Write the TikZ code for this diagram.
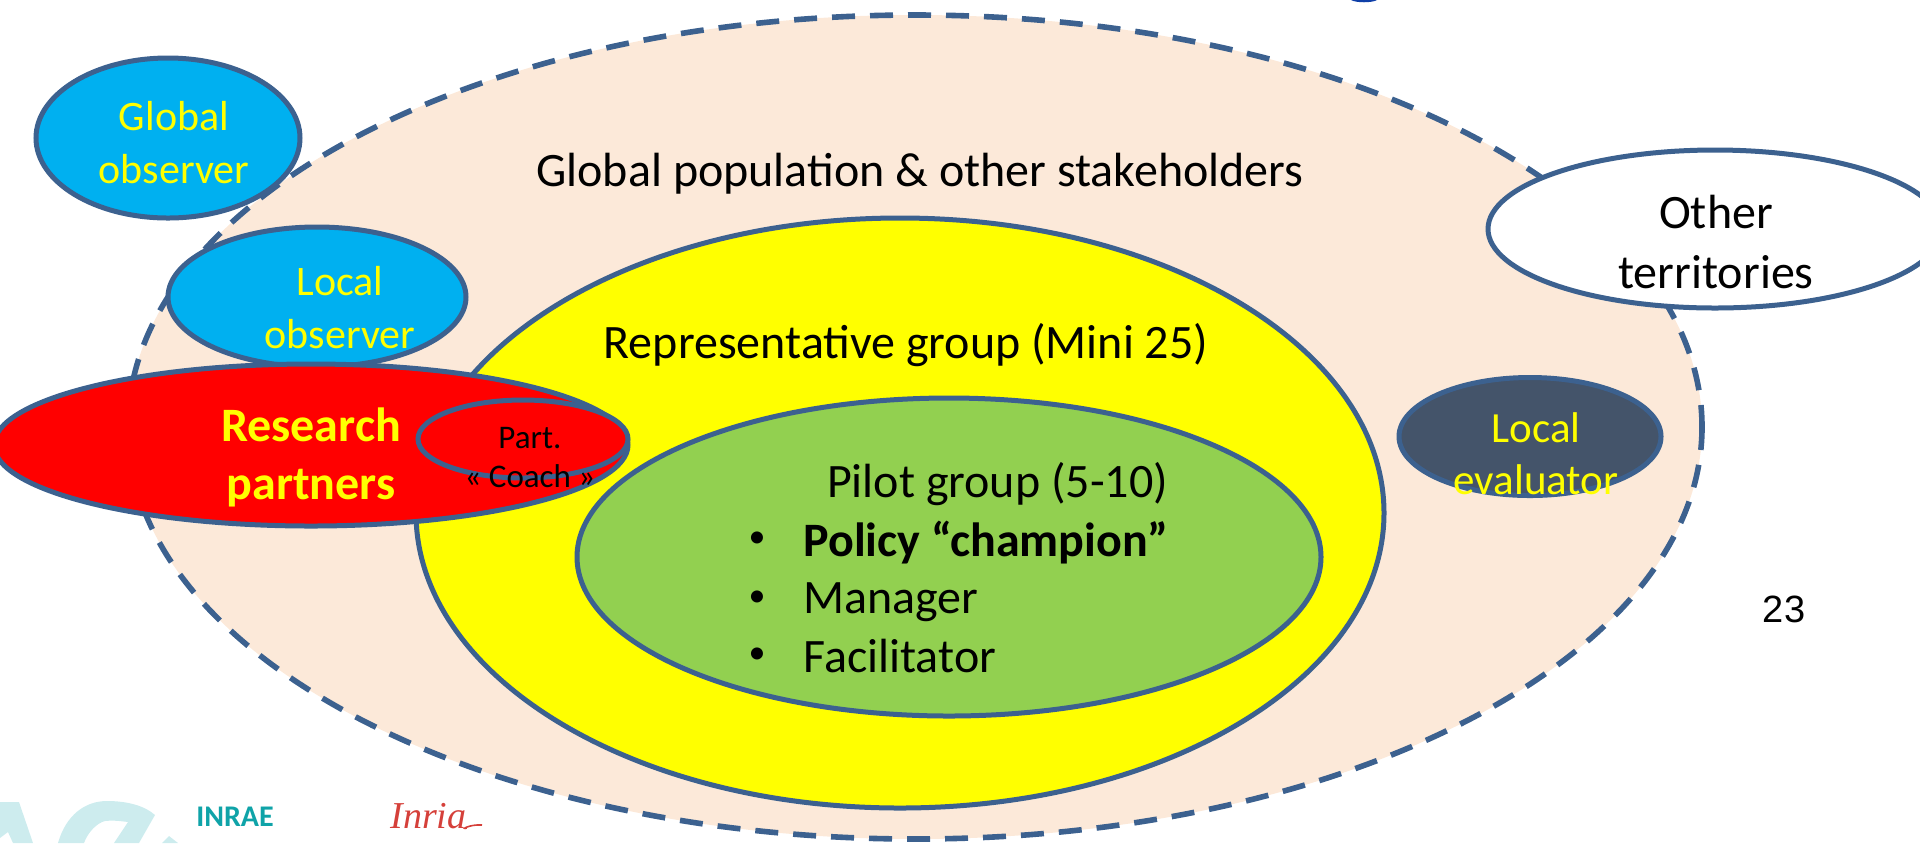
\documentclass[tikz,border=0pt]{standalone}
\usepackage{fontspec}
\setmainfont{Carlito}
\newfontfamily\arialf{Liberation Sans}
\newfontfamily\serifi{Liberation Serif}
\definecolor{edge}{HTML}{3C618F}
\definecolor{peach}{HTML}{FCE9D9}
\definecolor{cyanf}{HTML}{00B0F0}
\definecolor{slatef}{HTML}{44546A}
\definecolor{greenf}{HTML}{92D050}
\definecolor{yel}{HTML}{FFFF00}
\definecolor{teal}{HTML}{0FA3A8}
\definecolor{pale}{HTML}{CDECEE}
\definecolor{inriared}{HTML}{D5403A}
\definecolor{topblue}{HTML}{0F3FA8}
\tikzset{
  blob/.style={draw=edge,line width=2.5pt},
  lab/.style={align=center,inner sep=0pt,font=\fontsize{24}{30}\selectfont},
  ylab/.style={align=center,inner sep=0pt,text=yel,font=\fontsize{21}{26.5}\selectfont},
  bul/.style={inner sep=0pt,font=\fontsize{17}{20}\selectfont},
}
\begin{document}
\begin{tikzpicture}[x=0.5pt,y=-0.5pt]
\useasboundingbox (0,0) rectangle (1920,843);
\clip (0,0) rectangle (1920,843);
% background logo
\fill[pale] (0,802) -- (19,802) -- (33,843) -- (13,843) -- (8,832) -- (0,838) -- cycle;
\fill[pale] (58,843) .. controls (66,815) and (85,801) .. (107,801) .. controls (128,801) and (145,806) .. (155,815) -- (139,843) -- (114,843) -- (128,822) .. controls (120,821) and (112,820) .. (105,821) .. controls (97,823) and (88,832) .. (84,843) -- cycle;
\fill[pale] (162,843) -- (169,836) -- (178,843) -- cycle;
\fill[topblue] (1351,0) .. controls (1356,3) and (1372,3) .. (1377,0) -- cycle;
% main
\fill[peach] (915,427) ellipse[x radius=787,y radius=412];
\draw[edge,line width=2.8pt,dash pattern=on 11.5pt off 7.5pt] (915,427) ellipse[x radius=787,y radius=412];
\path[fill=yel,blob] (900,513) ellipse[x radius=484,y radius=295];
\path[fill=greenf,blob] (949,557) ellipse[x radius=372,y radius=159];
\path[fill=cyanf,blob] (168,138) ellipse[x radius=132,y radius=80];
\path[fill=cyanf,blob] (317,297) ellipse[x radius=149,y radius=70];
\path[fill=red,blob] (311,445) ellipse[x radius=317,y radius=81];
\path[fill=red,blob] (523,439) ellipse[x radius=105,y radius=39];
\path[fill=white,blob] (1715,229) ellipse[x radius=227,y radius=79];
\path[fill=slatef,blob] (1530,436.5) ellipse[x radius=131,y radius=59];
% labels
\node[ylab] (globalobs) at (174,143) {Global\\observer};
\node[ylab] (localobs) at (340,308) {Local\\observer};
\node[lab] (pop) at (920,174) {Global population \& other stakeholders};
\node[lab] (repr) at (906,345) {Representative group (Mini 25)};
\node[lab,anchor=base] (pilot) at (997.5,497) {Pilot group (5-10)};
\node[lab,anchor=base west] (policy) at (803,556) {\textbf{Policy “champion”}};
\node[lab,anchor=base west] (manager) at (803,613) {Manager};
\node[lab,anchor=base west] (facil) at (803,672) {Facilitator};
\node[bul] (b1) at (757,540) {•};
\node[bul] (b2) at (757,599) {•};
\node[bul] (b3) at (757,656) {•};
\node[align=center,inner sep=0pt,text=yel,font=\bfseries\fontsize{24}{29}\selectfont] (research) at (311,457) {Research\\partners};
\node[align=center,inner sep=0pt,font=\fontsize{16.5}{19.5}\selectfont] (coach) at (530,458) {Part.\\« Coach »};
\node[lab] (other) at (1716,242) {Other\\territories};
\node[align=center,inner sep=0pt,text=yel,font=\fontsize{21.5}{26}\selectfont] (evalu) at (1536,454) {Local\\evaluator};
\node[inner sep=0pt,font=\arialf\fontsize{19}{21}\selectfont] (page) at (1784,609) {23};
\node[inner sep=0pt,text=teal,font=\bfseries\fontsize{15}{16}\selectfont] (inrae) at (235,817) {INRAE};
\node[inner sep=0pt,text=inriared,font=\serifi\itshape\fontsize{19}{20}\selectfont,anchor=base west] (inria) at (390,828) {Inria};
\draw[inriared,line width=0.8pt] (inria.base east) .. controls (460,830) and (470,824) .. (482,825);
\end{tikzpicture}
\end{document}
